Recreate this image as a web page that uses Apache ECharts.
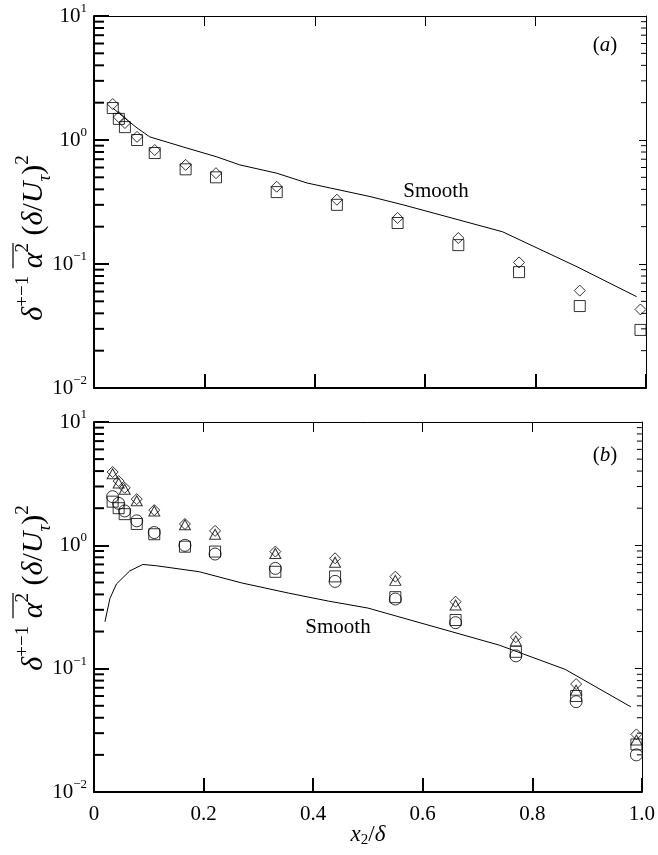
<!DOCTYPE html>
<html>
<head>
<meta charset="utf-8">
<script src="https://cdn.jsdelivr.net/npm/echarts@6/dist/echarts.min.js"></script>
<style>
html,body{margin:0;padding:0;background:#fff;}
#chart{width:658px;height:855px;}
</style>
</head>
<body>
<div id="chart"></div>
<script>
// ---------- data ----------
const xPos = [0.034, 0.045, 0.056, 0.078, 0.11, 0.166, 0.221, 0.331, 0.44, 0.55, 0.66, 0.77, 0.88, 0.99];

// panel (a)
const diamondA = [1.95, 1.53, 1.37, 1.06, 0.83, 0.63, 0.54, 0.42, 0.33, 0.235, 0.162, 0.103, 0.061, 0.043];
const squareA  = [1.81, 1.48, 1.27, 1.0, 0.785, 0.58, 0.50, 0.38, 0.30, 0.214, 0.142, 0.086, 0.0458, 0.0294];
const smoothAx = [0.034, 0.06, 0.078, 0.101, 0.161, 0.223, 0.264, 0.331, 0.386, 0.428, 0.5, 0.56, 0.74, 0.875, 0.983];
const smoothAy = [1.81, 1.45, 1.25, 1.06, 0.88, 0.73, 0.63, 0.54, 0.45, 0.41, 0.35, 0.30, 0.182, 0.095, 0.0545];

// panel (b)
const diamondB  = [3.93, 3.32, 2.93, 2.37, 1.93, 1.49, 1.31, 0.89, 0.785, 0.557, 0.349, 0.18, 0.075, 0.0293];
const triangleB = [3.8, 3.2, 2.85, 2.3, 1.9, 1.47, 1.23, 0.86, 0.73, 0.52, 0.328, 0.168, 0.067, 0.0264];
const squareB   = [2.26, 2.0, 1.79, 1.49, 1.23, 0.975, 0.89, 0.61, 0.56, 0.38, 0.248, 0.137, 0.060, 0.0243];
const circleB   = [2.48, 2.19, 1.9, 1.58, 1.27, 1.0, 0.85, 0.65, 0.51, 0.367, 0.236, 0.127, 0.054, 0.020];
const smoothBx  = [0.02, 0.029, 0.041, 0.065, 0.089, 0.114, 0.192, 0.27, 0.355, 0.428, 0.5, 0.74, 0.86, 0.98];
const smoothBy  = [0.24, 0.37, 0.486, 0.619, 0.70, 0.683, 0.611, 0.495, 0.41, 0.353, 0.31, 0.155, 0.0987, 0.049];

// axes
const xTickLabels = ['0', '0.2', '0.4', '0.6', '0.8', '1.0'];
const yMin = 0.01, yMax = 10;
const minorTicks = [0.02,0.03,0.04,0.05,0.06,0.07,0.08,0.09,
                    0.2,0.3,0.4,0.5,0.6,0.7,0.8,0.9,
                    2,3,4,5,6,7,8,9];

// ---------- chart ----------
const FONT = '"Liberation Serif", "Times New Roman", serif';
const chart = echarts.init(document.getElementById('chart'), null, {renderer: 'canvas'});

const zip = (xs, ys) => xs.map((x, i) => [x, ys[i]]);

function xAxes(grid, labels) {
  return [
    {
      gridIndex: grid, type: 'value', min: 0, max: 1, interval: 0.2, position: 'bottom',
      axisLine: {onZero: false, lineStyle: {color: '#000', width: 2}},
      axisTick: {inside: true, length: 14, lineStyle: {color: '#000', width: 2}},
      axisLabel: {show: labels, margin: 12, color: '#000', fontFamily: FONT, fontSize: 21,
        formatter: v => xTickLabels[Math.round(v / 0.2)]},
      splitLine: {show: false}
    },
    {
      gridIndex: grid, type: 'value', min: 0, max: 1, interval: 0.2, position: 'top',
      axisLine: {onZero: false, lineStyle: {color: '#000', width: 1}},
      axisTick: {inside: true, length: 10, lineStyle: {color: '#000', width: 1}},
      axisLabel: {show: false}, splitLine: {show: false}
    }
  ];
}
function yAxes(grid) {
  return [
    {
      gridIndex: grid, type: 'log', logBase: 10, min: yMin, max: yMax, splitNumber: 3, position: 'left',
      axisLine: {onZero: false, lineStyle: {color: '#000', width: 2}},
      axisTick: {inside: true, length: 15, lineStyle: {color: '#000', width: 2}},
      axisLabel: {
        margin: 7, color: '#000', fontFamily: FONT,
        formatter: v => {
          const e = Math.round(Math.log10(v));
          return '{b|10}{s|' + (e < 0 ? '\u2212' + (-e) : e) + '}';
        },
        rich: {
          b: {fontFamily: FONT, fontSize: 21, lineHeight: 28, color: '#000'},
          s: {fontFamily: FONT, fontSize: 13, lineHeight: 13, verticalAlign: 'top', color: '#000'}
        }
      },
      splitLine: {show: false}
    },
    {
      gridIndex: grid, type: 'log', logBase: 10, min: yMin, max: yMax, splitNumber: 3, position: 'right',
      axisLine: {onZero: false, lineStyle: {color: '#000', width: 1}},
      axisTick: {inside: true, length: 7, lineStyle: {color: '#000', width: 1}},
      axisLabel: {show: false}, splitLine: {show: false}
    }
  ];
}

function minorTickSeries(grid) {
  return {
    type: 'custom', xAxisIndex: grid * 2, yAxisIndex: grid * 2, silent: true, clip: false,
    data: minorTicks.map(v => [0, v]),
    renderItem: (params, api) => {
      const v = api.value(1);
      const pL = api.coord([0, v]);
      const pR = api.coord([1, v]);
      return {type: 'group', children: [
        {type: 'line', shape: {x1: pL[0], y1: pL[1], x2: pL[0] + 10, y2: pL[1]}, style: {stroke: '#000', lineWidth: 2}},
        {type: 'line', shape: {x1: pR[0], y1: pR[1], x2: pR[0] - 5, y2: pR[1]}, style: {stroke: '#000', lineWidth: 1}}
      ]};
    },
    z: 5
  };
}

const open = {color: 'rgba(0,0,0,0)', borderColor: '#000', borderWidth: 1};
function scatter(grid, data, symbol, size) {
  return {type: 'scatter', xAxisIndex: grid * 2, yAxisIndex: grid * 2, data: zip(xPos, data),
    symbol: symbol, symbolSize: size, itemStyle: open, silent: true, z: 3, clip: false};
}
function line(grid, xs, ys) {
  return {type: 'line', xAxisIndex: grid * 2, yAxisIndex: grid * 2, data: zip(xs, ys),
    showSymbol: false, lineStyle: {color: '#000', width: 1}, silent: true, z: 2, animation: false};
}

// y-axis title, drawn rotated
const TS = 30, SS = 19;
const richTitle = {
  i: {fontFamily: FONT, fontStyle: 'italic', fontSize: TS, lineHeight: 40, color: '#000'},
  n: {fontFamily: FONT, fontSize: TS, lineHeight: 40, color: '#000'},
  s: {fontFamily: FONT, fontSize: SS, lineHeight: SS, verticalAlign: 'top', color: '#000'},
  u: {fontFamily: FONT, fontStyle: 'italic', fontSize: SS, lineHeight: SS + 4, verticalAlign: 'bottom', color: '#000'}
};
const cv = document.createElement('canvas').getContext('2d');
function w(t, font) { cv.font = font; return cv.measureText(t).width; }
const fI = 'italic ' + TS + 'px ' + FONT, fN = TS + 'px ' + FONT, fS = SS + 'px ' + FONT;
const preW = w('\u03b4', fI) + w('+\u22121', fS) + w(' ', fN);
const alphaW = w('\u03b1', fI) + w('2', fS);
const restW = w(' (', fN) + w('\u03b4', fI) + w('/', fN) + w('U', fI) + w('\u03c4', 'italic ' + SS + 'px ' + FONT) + w(')', fN) + w('2', fS);
const totW = preW + alphaW + restW;
const titleText = '{i|\u03b4}{s|+\u22121}{n| }{i|\u03b1}{s|2}{n| (}{i|\u03b4}{n|/}{i|U}{u|\u03c4}{n|)}{s|2}';
function yTitle(cx, cy) {
  return {
    type: 'group', x: cx, y: cy, rotation: Math.PI / 2, silent: true,
    children: [
      {type: 'text', x: -totW / 2, y: 0, style: {text: titleText, rich: richTitle, align: 'left', verticalAlign: 'middle'}},
      {type: 'line', shape: {x1: -totW / 2 + preW, y1: -21, x2: -totW / 2 + preW + alphaW, y2: -21},
        style: {stroke: '#000', lineWidth: 1.2}}
    ]
  };
}
function label(text, x, y, rich) {
  return {type: 'text', x: x, y: y, silent: true,
    style: {text: text, rich: rich, align: 'center', verticalAlign: 'middle', fill: '#000',
      font: '20px ' + FONT}};
}
const richLbl = {
  n: {fontFamily: FONT, fontSize: 21, color: '#000'},
  i: {fontFamily: FONT, fontSize: 21, fontStyle: 'italic', color: '#000'}
};
const richX = {
  i: {fontFamily: FONT, fontSize: 23, fontStyle: 'italic', lineHeight: 26, color: '#000'},
  n: {fontFamily: FONT, fontSize: 23, lineHeight: 26, color: '#000'},
  u: {fontFamily: FONT, fontSize: 15, lineHeight: 15, verticalAlign: 'bottom', color: '#000'}
};

chart.setOption({
  animation: false,
  backgroundColor: '#fff',
  grid: [
    {left: 94, top: 16, width: 552, height: 372},
    {left: 94, top: 422, width: 552, height: 370}
  ],
  xAxis: [...xAxes(0, false), ...xAxes(1, true)],
  yAxis: [...yAxes(0), ...yAxes(1)],
  series: [
    line(0, smoothAx, smoothAy),
    scatter(0, diamondA, 'diamond', [11, 11]),
    scatter(0, squareA, 'rect', [11, 11]),
    line(1, smoothBx, smoothBy),
    scatter(1, diamondB, 'diamond', [11, 11]),
    scatter(1, triangleB, 'triangle', [11, 10]),
    scatter(1, squareB, 'rect', [11, 11]),
    scatter(1, circleB, 'circle', 12),
    minorTickSeries(0),
    minorTickSeries(1)
  ],
  graphic: [
    yTitle(34, 238),
    yTitle(34, 588),
    label('{n|(}{i|a}{n|)}', 605, 45, richLbl),
    label('{n|(}{i|b}{n|)}', 605, 455, richLbl),
    label('{n|Smooth}', 436, 191, richLbl),
    label('{n|Smooth}', 338, 627, richLbl),
    label('{i|x}{u|2}{n|/}{i|\u03b4}', 368, 835, richX)
  ]
});
</script>
</body>
</html>
